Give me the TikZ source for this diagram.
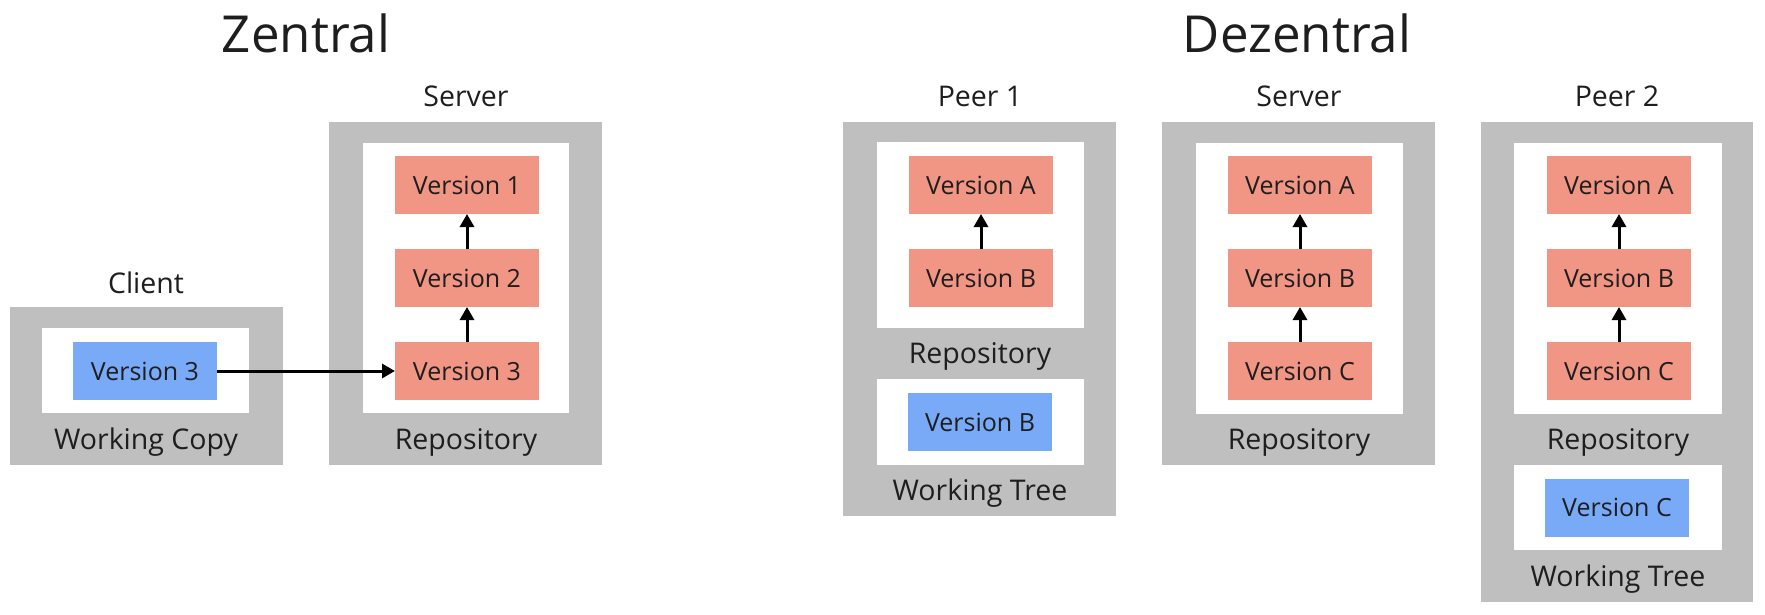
\documentclass[tikz,border=0pt]{standalone}
\usepackage{fontspec}
\setmainfont{Open Sans}
\usetikzlibrary{arrows.meta}
\definecolor{frame}{HTML}{BFBFBF}
\definecolor{commit}{HTML}{F19585}
\definecolor{work}{HTML}{78AAF8}
\definecolor{txt}{HTML}{1E1E1E}
\begin{document}
\begin{tikzpicture}[x=1pt,y=-1pt,
  panel/.style={fill=frame, anchor=north west, inner sep=0pt, outer sep=0pt},
  pane/.style={fill=white, anchor=north west, inner sep=0pt, outer sep=0pt},
  ver/.style={fill=commit, minimum width=144pt, minimum height=58pt, inner sep=0pt, outer sep=0pt,
    text height=18pt, text depth=0pt, font=\fontsize{25}{30}\selectfont, text=txt},
  wver/.style={ver, fill=work},
  lbl/.style={anchor=base, font=\fontsize{28.5}{34}\selectfont, text=txt, inner sep=0pt},
  ttl/.style={anchor=base, font=\fontsize{51}{60}\selectfont, text=txt, inner sep=0pt},
  link/.style={-{Triangle[length=13pt,width=14pt]}, line width=3pt, black}
]
\useasboundingbox (0,0) rectangle (1765,615);

% ---------- centralised ----------
\node[ttl] (tz) at (306,53) {Zentral};

% client
\node[lbl] (clientlbl) at (146,293) {Client};
\node[panel, minimum width=273pt, minimum height=158pt] (clientO) at (10,307) {};
\node[pane, minimum width=207pt, minimum height=85pt] (clientI) at (42,328) {};
\node[wver] (cv3) at (145,371) {Version 3};
\node[lbl] (clientwc) at (146,449) {Working Copy};

% server
\node[lbl] (srvlbl) at (466,107) {Server};
\node[panel, minimum width=273pt, minimum height=343pt] (srvO) at (329,122) {};
\node[pane, minimum width=206pt, minimum height=270pt] (srvI) at (363,143) {};
\node[ver] (sv1) at (467,185) {Version 1};
\node[ver] (sv2) at (467,278) {Version 2};
\node[ver] (sv3) at (467,371) {Version 3};
\node[lbl] (srvrepo) at (466,449) {Repository};

\draw[link] (sv3) -- (sv2);
\draw[link] (sv2) -- (sv1);
\draw[link] (cv3.east) -- (sv3.west);

% ---------- decentralised ----------
\node[ttl] (td) at (1297,53) {Dezentral};

% peer 1
\node[lbl] (p1lbl) at (980,107) {Peer 1};
\node[panel, minimum width=273pt, minimum height=394pt] (p1O) at (843,122) {};
\node[pane, minimum width=207pt, minimum height=186pt] (p1I) at (877,142) {};
\node[ver] (p1a) at (981,185) {Version A};
\node[ver] (p1b) at (981,278) {Version B};
\node[lbl] (p1repo) at (980,363.5) {Repository};
\node[pane, minimum width=207pt, minimum height=86pt] (p1W) at (877,379) {};
\node[wver] (p1w) at (980,422) {Version B};
\node[lbl] (p1wt) at (980,500.5) {Working Tree};
\draw[link] (p1b) -- (p1a);

% server
\node[lbl] (dslbl) at (1299,107) {Server};
\node[panel, minimum width=273pt, minimum height=343pt] (dsO) at (1162,122) {};
\node[pane, minimum width=207pt, minimum height=271pt] (dsI) at (1196,143) {};
\node[ver] (dsa) at (1300,185) {Version A};
\node[ver] (dsb) at (1300,278) {Version B};
\node[ver] (dsc) at (1300,371) {Version C};
\node[lbl] (dsrepo) at (1299,449.5) {Repository};
\draw[link] (dsc) -- (dsb);
\draw[link] (dsb) -- (dsa);

% peer 2
\node[lbl] (p2lbl) at (1617,107) {Peer 2};
\node[panel, minimum width=272pt, minimum height=480pt] (p2O) at (1481,122) {};
\node[pane, minimum width=208pt, minimum height=271pt] (p2I) at (1514,143) {};
\node[ver] (p2a) at (1619,185) {Version A};
\node[ver] (p2b) at (1619,278) {Version B};
\node[ver] (p2c) at (1619,371) {Version C};
\node[lbl] (p2repo) at (1618,449.5) {Repository};
\node[pane, minimum width=208pt, minimum height=85pt] (p2W) at (1514,465) {};
\node[wver] (p2w) at (1617,507.5) {Version C};
\node[lbl] (p2wt) at (1618,586) {Working Tree};
\draw[link] (p2c) -- (p2b);
\draw[link] (p2b) -- (p2a);
\end{tikzpicture}
\end{document}
